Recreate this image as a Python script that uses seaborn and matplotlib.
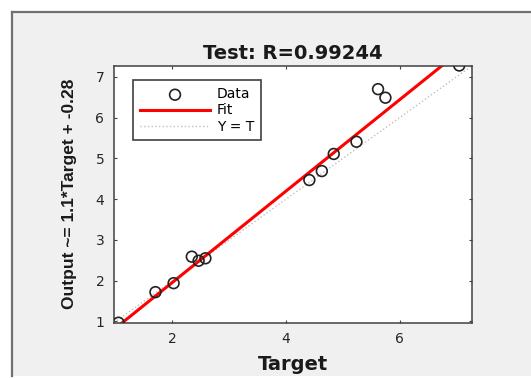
import matplotlib.pyplot as plt
import matplotlib.patches as mpatches
from matplotlib.lines import Line2D
import seaborn as sns
import numpy as np

# values
target = [1.05, 1.70, 2.02, 2.34, 2.46, 2.58, 4.41, 4.63, 4.84, 5.24, 5.62, 5.75, 7.05]
output = [0.97, 1.72, 1.94, 2.59, 2.49, 2.55, 4.47, 4.69, 5.11, 5.41, 6.70, 6.49, 7.28]
fit_slope = 1.12
fit_intercept = -0.28
r_value = 0.99244
x_ticks = [2, 4, 6]
y_ticks = [1, 2, 3, 4, 5, 6, 7]

W, H = 531, 378
fig = plt.figure(figsize=(W / 100, H / 100), dpi=100, facecolor='white')

# grey matlab-like window panel with a dark edge on left and top
fig.patches.append(mpatches.Rectangle((12 / W, 2 / H), 1 - 12 / W, (376 - 12) / H,
                                      transform=fig.transFigure, facecolor='#f0f0f0',
                                      edgecolor='none', zorder=-5))
fig.lines.append(Line2D([12 / W, 12 / W], [2 / H, 1 - 12 / H], transform=fig.transFigure,
                        color='#707070', lw=1.6, zorder=-4))
fig.lines.append(Line2D([12 / W, 1], [1 - 12 / H, 1 - 12 / H], transform=fig.transFigure,
                        color='#707070', lw=1.6, zorder=-4))

ax = fig.add_axes([114 / W, (H - 322.7) / H, (472.3 - 114) / W, (322.7 - 65.5) / H])
ax.set_facecolor('white')

lim = [min(target + output), max(target + output)]
lims = np.array(lim)

sns.lineplot(x=lims, y=lims, ax=ax, color='#c0c0c0', linestyle=':', linewidth=1.0,
             label='Y = T')
sns.lineplot(x=lims, y=fit_slope * lims + fit_intercept, ax=ax, color='#ff0000',
             linewidth=2.2, label='Fit')
sns.scatterplot(x=target, y=output, ax=ax, marker='o', s=60, facecolor='none',
                edgecolor='#222222', linewidth=1.2, label='Data', zorder=3)

ax.set_xlim(lim)
ax.set_ylim(lim)
ax.set_xticks(x_ticks)
ax.set_yticks(y_ticks)
ax.tick_params(direction='in', length=2.5, width=0.8, color='#404040', labelsize=10,
               labelcolor='#262626', pad=7, top=True, right=True)
for sp in ax.spines.values():
    sp.set_color('#404040')
    sp.set_linewidth(1.1)

ax.set_title('Test: R=%.5f' % r_value, fontsize=14, fontweight='bold', pad=5,
             color='#1a1a1a')
ax.set_xlabel('Target', fontsize=14, fontweight='bold', labelpad=6, color='#1a1a1a')
ax.set_ylabel('Output ~= %.1f*Target + %.2f' % (1.1, fit_intercept), fontsize=12.5,
              fontweight='bold', family='Liberation Sans', labelpad=13, color='#1a1a1a')

handles, labels = ax.get_legend_handles_labels()
order = [labels.index(k) for k in ['Data', 'Fit', 'Y = T']]
leg = ax.legend([handles[i] for i in order], [labels[i] for i in order],
                loc='upper left', bbox_to_anchor=(0.054, 0.942), borderaxespad=0,
                fontsize=10, handlelength=5.0, handletextpad=0.5, labelspacing=0.15,
                borderpad=0.5, fancybox=False, framealpha=1, edgecolor='#404040')
leg.get_frame().set_linewidth(1.2)

fig.savefig('out.png', dpi=100, facecolor=fig.get_facecolor())
